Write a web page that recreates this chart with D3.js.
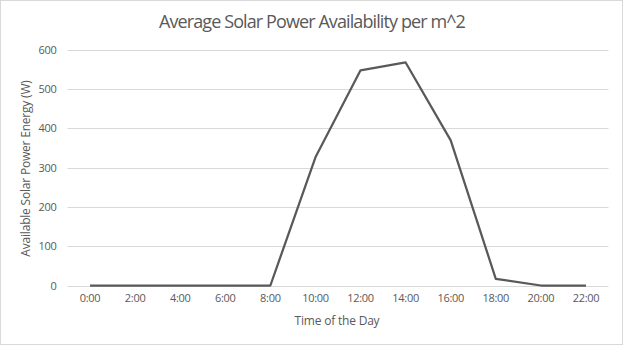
<!DOCTYPE html>
<html><head><meta charset="utf-8">
<script src="https://cdn.jsdelivr.net/npm/d3@7"></script>
<style>body{margin:0;background:#fff}svg{display:block}text{font-family:"Open Sans",sans-serif}</style>
</head><body><svg id="c" width="623" height="345"></svg>
<script>
const categories = ["0:00","2:00","4:00","6:00","8:00","10:00","12:00","14:00","16:00","18:00","20:00","22:00"];
const values = [0,0,0,0,0,326,547,567,369,17,0,0];
const yTicks = [0,100,200,300,400,500,600];

const svg = d3.select("#c");
svg.append("rect").attr("x",0.5).attr("y",0.5).attr("width",622).attr("height",344)
  .attr("fill","#fff").attr("stroke","#d9d9d9");
const m = {l:67.5, r:608.5, t:49.5, b:285.5};
const x = d3.scaleBand().domain(categories).range([m.l,m.r]);
const y = d3.scaleLinear().domain([0,600]).range([m.b,m.t]);

svg.append("g").selectAll("line").data(yTicks).join("line")
  .attr("x1",m.l).attr("x2",m.r).attr("y1",d=>Math.round(y(d))+0.5).attr("y2",d=>Math.round(y(d))+0.5)
  .attr("stroke","#d9d9d9").attr("stroke-width",1);

const ya = svg.append("g").attr("transform",`translate(${m.l},0)`)
  .call(d3.axisLeft(y).tickValues(yTicks).tickSize(0).tickPadding(11));
ya.select(".domain").remove();
ya.selectAll("text").attr("font-size",11).attr("fill","#595959").attr("font-family","Open Sans").attr("letter-spacing",-0.3);

const xa = svg.append("g").attr("transform",`translate(0,${m.b})`)
  .call(d3.axisBottom(x).tickSize(0).tickPadding(9));
xa.select(".domain").remove();
xa.selectAll("text").attr("font-size",11).attr("fill","#595959").attr("font-family","Open Sans").attr("letter-spacing",-0.3);

const line = d3.line().x((d,i)=>x(categories[i])+x.bandwidth()/2).y(d=>y(d));
svg.append("path").datum(values).attr("d",line).attr("fill","none")
  .attr("stroke","#595959").attr("stroke-width",2.25).attr("stroke-linejoin","round");

svg.append("text").attr("x",312).attr("y",28).attr("text-anchor","middle")
  .attr("font-size",18).attr("fill","#595959").attr("letter-spacing",-0.9).text("Average Solar Power Availability per m^2");
svg.append("text").attr("x",337).attr("y",325).attr("text-anchor","middle")
  .attr("font-size",12).attr("fill","#595959").attr("letter-spacing",-0.2).text("Time of the Day");
svg.append("text").attr("transform",`translate(30,${(m.t+m.b)/2+1}) rotate(-90)`).attr("text-anchor","middle")
  .attr("font-size",12).attr("fill","#595959").attr("letter-spacing",-0.2).text("Available Solar Power Energy (W)");
</script></body></html>
